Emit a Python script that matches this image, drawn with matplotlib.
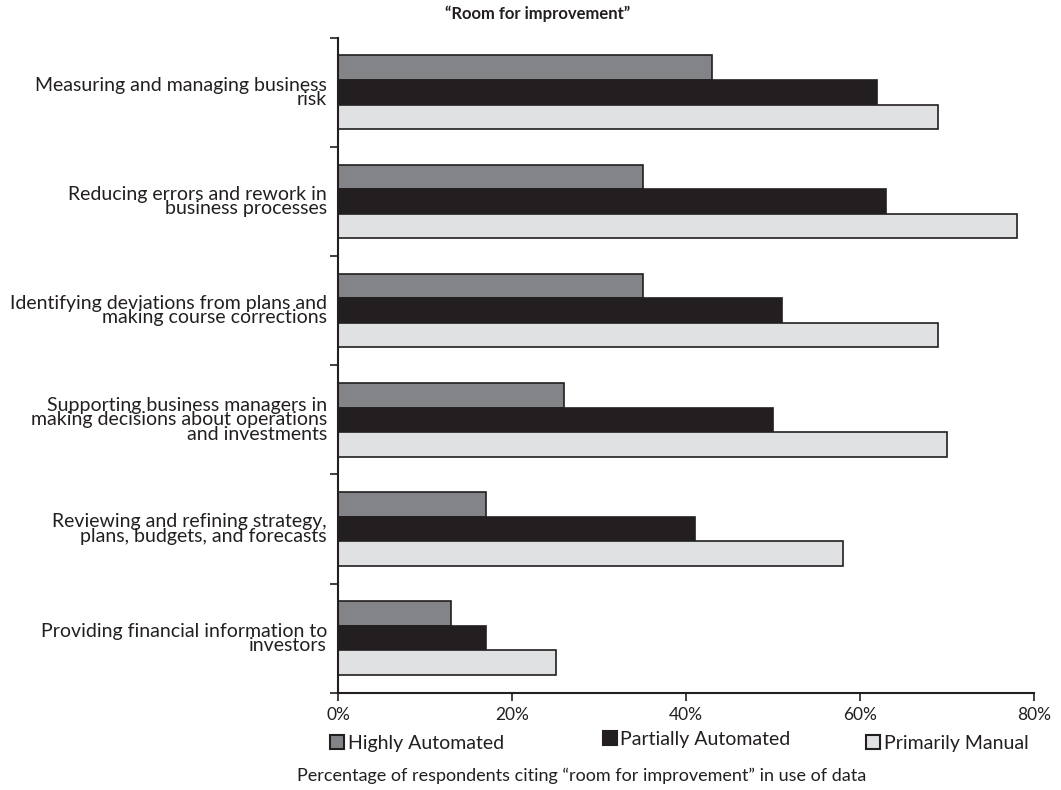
import numpy as np
import matplotlib
matplotlib.use("Agg")
import matplotlib.pyplot as plt
from matplotlib.patches import Patch

plt.rcParams['font.family'] = ['Lato', 'DejaVu Sans']

categories = [
    "Measuring and managing business\nrisk",
    "Reducing errors and rework in\nbusiness processes",
    "Identifying deviations from plans and\nmaking course corrections",
    "Supporting business managers in\nmaking decisions about operations\nand investments",
    "Reviewing and refining strategy,\nplans, budgets, and forecasts",
    "Providing financial information to\ninvestors",
]
highly = [43, 35, 35, 26, 17, 13]
partially = [62, 63, 51, 50, 41, 17]
manual = [69, 78, 69, 70, 58, 25]
series_names = ["Highly Automated", "Partially Automated", "Primarily Manual"]
colors = ["#838487", "#231f20", "#e0e1e3"]
edge = "#231f20"

W, H = 1061, 790
fig = plt.figure(figsize=(W / 100, H / 100), dpi=100)
ax = fig.add_axes([338 / W, 1 - 692.7 / H, (1034 - 338) / W, (692.7 - 37.7) / H])

n = len(categories)
h = 0.225
centers = np.arange(n) + 0.5
for k, vals in enumerate([highly, partially, manual]):
    ax.barh(centers + (k - 1) * h, vals, height=h, color=colors[k],
            edgecolor=edge, linewidth=1.2, label=series_names[k])

ax.set_xlim(0, 80)
ax.set_ylim(n, 0)
ax.set_xticks([0, 20, 40, 60, 80])
ax.set_xticklabels(["0%", "20%", "40%", "60%", "80%"], fontsize=12.5, color=edge)
ax.set_yticks(np.arange(n + 1))
ax.set_yticklabels([])
ax.set_yticks(centers, minor=True)
ax.set_yticklabels(categories, minor=True, fontsize=14, color=edge,
                   linespacing=0.8)
ax.tick_params(axis='y', which='minor', length=0, pad=8)
ax.tick_params(axis='y', which='major', length=6, width=1.2, color=edge)
ax.tick_params(axis='x', length=6, width=1.2, color=edge, pad=4)
for s in ['top', 'right']:
    ax.spines[s].set_visible(False)
for s in ['left', 'bottom']:
    ax.spines[s].set_linewidth(1.5)
    ax.spines[s].set_color(edge)

fig.text(0.507, 0.982, "\u201cRoom for improvement\u201d", ha='center', va='center',
         fontsize=12, fontweight='bold', color=edge)

# one legend per entry, the entries are not evenly spaced in the original
leg_x = [330, 603, 866]
leg_y = [743, 739, 743]
for k in range(3):
    fig.legend([Patch(facecolor=colors[k], edgecolor=edge, linewidth=1.5)], [series_names[k]],
               loc='center left', bbox_to_anchor=(leg_x[k] / W, 1 - leg_y[k] / H),
               frameon=False, fontsize=14, handlelength=0.7, handleheight=0.7,
               handletextpad=0.2, borderpad=0, borderaxespad=0, labelcolor=edge)

fig.text(0.548, 0.018, "Percentage of respondents citing \u201croom for improvement\u201d in use of data",
         ha='center', va='center', fontsize=13, color=edge)

fig.savefig("out.png", dpi=100)
